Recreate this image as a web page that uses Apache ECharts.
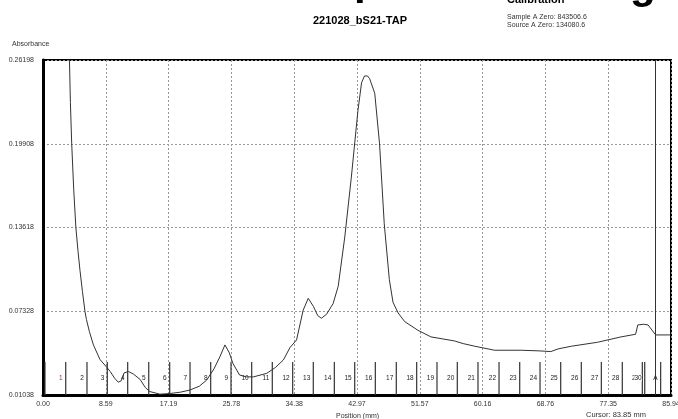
<!DOCTYPE html>
<html>
<head>
<meta charset="utf-8">
<script src="https://cdn.jsdelivr.net/npm/echarts@6/dist/echarts.min.js"></script>
<style>
  html, body { margin: 0; padding: 0; background: #fff; }
  #chart { width: 678px; height: 419px; }
</style>
</head>
<body>
<div id="chart"></div>
<script>
// tick labels
const yTickLabels = ['0.01038', '0.07328', '0.13618', '0.19908', '0.26198'];
const xTickLabels = ['0.00', '8.59', '17.19', '25.78', '34.38', '42.97', '51.57', '60.16', '68.76', '77.35', '85.94'];
const yMin = 0.01038, yMax = 0.26198, yStep = 0.0629;
const xMin = 0, xMax = 85.945, xStep = 8.5945;

// absorbance trace [position mm, absorbance]
const trace = [
    [3.55, 0.29], [3.62, 0.262], [3.75, 0.23], [3.93, 0.199], [4.2, 0.165],
    [4.5, 0.136], [4.8, 0.118], [5.06, 0.104], [5.4, 0.088], [5.75, 0.073],
    [5.95, 0.067], [6.1, 0.068], [6.35, 0.058], [6.9, 0.048], [7.8, 0.037],
    [8.6, 0.032], [9.2, 0.028], [9.8, 0.023], [10.3, 0.020], [10.7, 0.021],
    [11.1, 0.027], [11.7, 0.028], [12.4, 0.026], [13.3, 0.022], [14.0, 0.016],
    [14.6, 0.013], [16.0, 0.011], [17.4, 0.0115], [18.8, 0.0125], [20.1, 0.0141],
    [21.4, 0.017], [22.4, 0.0216], [23.4, 0.030], [24.2, 0.039], [24.9, 0.048],
    [25.5, 0.042], [26.0, 0.034], [26.9, 0.0254], [27.8, 0.024], [28.8, 0.024],
    [30.6, 0.0266], [31.8, 0.031], [32.9, 0.0367], [33.8, 0.046], [34.7, 0.0517],
    [35.6, 0.074], [36.3, 0.083], [37.0, 0.077], [37.6, 0.070], [38.1, 0.068],
    [38.8, 0.071], [39.7, 0.079], [40.4, 0.092], [41.3, 0.129], [42.2, 0.174],
    [43.1, 0.224], [43.6, 0.245], [44.0, 0.250], [44.4, 0.250], [44.7, 0.248],
    [45.4, 0.237], [46.06, 0.199], [46.7, 0.139], [47.4, 0.097], [47.9, 0.080],
    [48.6, 0.072], [49.5, 0.0655], [51.3, 0.059], [53.1, 0.054], [56.3, 0.051],
    [57.5, 0.049], [59.1, 0.047], [61.8, 0.044], [65.4, 0.044], [68.0, 0.0435],
    [69.5, 0.043], [70.5, 0.045], [72.3, 0.047], [75.9, 0.050], [79.1, 0.054],
    [81.1, 0.056], [81.4, 0.063], [82.2, 0.0635], [82.8, 0.063], [83.85, 0.0555],
    [85.945, 0.0555]
];

// fraction boundaries (mm) and the label of the fraction ending at each one
const fractionStart = 0.27;
const fractionEnds = [
    3.11, 6.02, 8.80, 11.59, 14.47, 17.34, 20.12, 22.95, 25.73, 28.56,
    31.38, 34.17, 36.99, 39.87, 42.66, 45.48, 48.35, 51.14, 53.92, 56.70,
    59.53, 62.41, 65.24, 68.02, 70.85, 73.67, 76.41, 79.28, 82.02, 82.35, 84.53
];
const fractionLabels = [
    '1', '2', '3', '4', '5', '6', '7', '8', '9', '10',
    '11', '12', '13', '14', '15', '16', '17', '18', '19', '20',
    '21', '22', '23', '24', '25', '26', '27', '28', '29', '30', 'A'
];

const cursorPos = 83.85;
const runName = '221028_bS21-TAP';
const sampleZero = 'Sample A Zero: 843506.6';
const sourceZero = 'Source A Zero: 134080.6';

const FONT = 'Liberation Sans';
const chart = echarts.init(document.getElementById('chart'));

// start line + one entry per fraction end
const fractionData = [[fractionStart, -1]].concat(fractionEnds.map((x, i) => [x, i]));

function renderFraction(params, api) {
    const x = api.value(0);
    const idx = api.value(1);
    const p = api.coord([x, yMin]);
    const children = [{
        type: 'line',
        shape: {x1: p[0], y1: p[1], x2: p[0], y2: p[1] - 33},
        style: {stroke: '#333', lineWidth: 1.2}
    }];
    if (idx >= 0) {
        children.push({
            type: 'text',
            x: p[0] - 3,
            y: p[1] - 17,
            style: {
                text: fractionLabels[idx],
                align: 'right',
                verticalAlign: 'middle',
                font: '6.5px "' + FONT + '"',
                fill: idx === 0 ? '#a03030' : '#222',
                backgroundColor: '#fff'
            }
        });
    }
    return {type: 'group', children: children};
}

const option = {
    animation: false,
    backgroundColor: '#fff',
    grid: {
        left: 43, right: 7, top: 60, bottom: 24,
        outerBoundsMode: 'none',
        show: true, borderColor: '#000', borderWidth: 2
    },
    xAxis: {
        type: 'value',
        min: xMin, max: xMax, interval: xStep,
        axisLine: {show: true, onZero: false, lineStyle: {color: '#000', width: 3}},
        axisTick: {show: false},
        axisLabel: {
            margin: 6, fontSize: 7, color: '#333', fontFamily: FONT,
            showMinLabel: true, showMaxLabel: true, hideOverlap: false,
            formatter: v => xTickLabels[Math.round(v / xStep)]
        },
        splitLine: {show: true, lineStyle: {color: '#999', width: 1, type: [2, 2]}}
    },
    yAxis: {
        type: 'value',
        min: yMin, max: yMax, interval: yStep,
        axisLine: {show: true, onZero: false, lineStyle: {color: '#000', width: 3}},
        axisTick: {show: false},
        axisLabel: {
            margin: 9, fontSize: 7, color: '#333', fontFamily: FONT,
            showMinLabel: true, showMaxLabel: true, hideOverlap: false,
            formatter: v => yTickLabels[Math.round((v - yMin) / yStep)]
        },
        splitLine: {show: true, lineStyle: {color: '#999', width: 1, type: [2, 2]}}
    },
    series: [
        {
            type: 'custom',
            renderItem: renderFraction,
            data: fractionData,
            clip: true,
            silent: true,
            z: 2
        },
        {
            type: 'line',
            data: trace,
            showSymbol: false,
            clip: true,
            lineStyle: {color: '#333', width: 1},
            z: 3,
            markLine: {
                silent: true,
                symbol: 'none',
                label: {show: false},
                lineStyle: {color: '#333', width: 1, type: 'solid'},
                data: [{xAxis: cursorPos}]
            }
        }
    ],
    graphic: [
        {type: 'text', left: 354, top: -39, style: {text: 'p', font: 'bold 42px "' + FONT + '"', fill: '#000'}},
        {type: 'text', left: 630, top: -35, style: {text: 'g', font: 'bold 42px "' + FONT + '"', fill: '#000'}},
        {type: 'text', left: 507, top: -6, style: {text: 'Calibration', font: 'bold 11px "' + FONT + '"', fill: '#000'}},
        {type: 'text', left: 313, top: 15, style: {text: runName, font: 'bold 11px "' + FONT + '"', fill: '#000'}},
        {type: 'text', left: 507, top: 14, style: {text: sampleZero, font: '7px "' + FONT + '"', fill: '#333'}},
        {type: 'text', left: 507, top: 22, style: {text: sourceZero, font: '7px "' + FONT + '"', fill: '#333'}},
        {type: 'text', left: 12, top: 41, style: {text: 'Absorbance', font: '7px "' + FONT + '"', fill: '#333'}},
        {type: 'text', left: 336, top: 413, style: {text: 'Position (mm)', font: '7px "' + FONT + '"', fill: '#333'}},
        {type: 'text', left: 586, top: 411, style: {text: 'Cursor: ' + cursorPos.toFixed(2) + ' mm', font: '7.5px "' + FONT + '"', fill: '#333'}}
    ]
};

chart.setOption(option);
</script>
</body>
</html>
